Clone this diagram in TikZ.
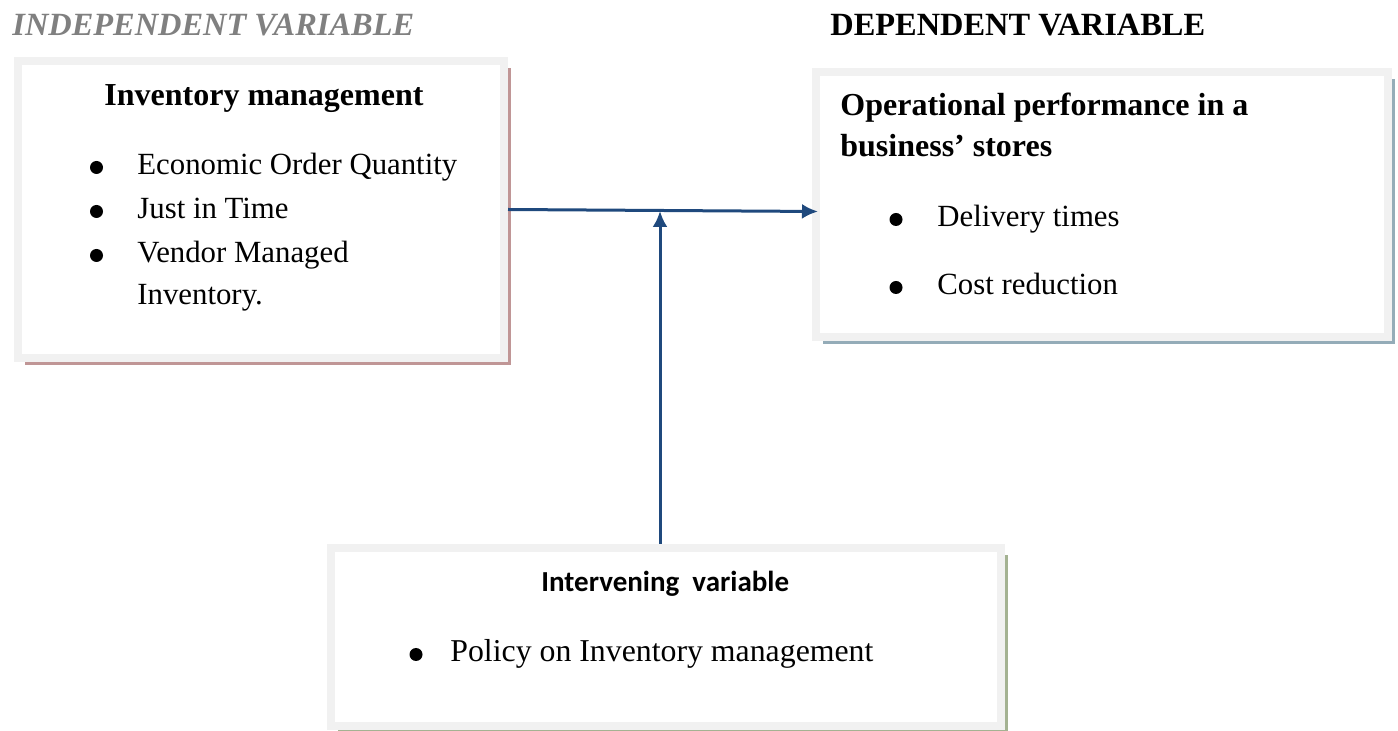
\documentclass[tikz,border=0pt]{standalone}
\usepackage{fontspec}
\setmainfont{Liberation Serif}
\newfontfamily\calibri{Carlito}
\usetikzlibrary{arrows.meta,shadows}

\definecolor{framegrey}{RGB}{241,241,241}
\definecolor{redshade}{RGB}{192,150,150}
\definecolor{blueshade}{RGB}{148,172,184}
\definecolor{greenshade}{RGB}{164,178,146}
\definecolor{linkblue}{RGB}{31,73,125}
\definecolor{titlegrey}{RGB}{128,128,128}

\newcommand{\bodyfont}{\fontsize{15.4}{22}\selectfont}
\newcommand{\headfont}{\fontsize{16}{22}\selectfont\bfseries}

\begin{document}
\begin{tikzpicture}[x=0.5pt, y=-0.5pt, >={Latex[length=8pt,width=7.5pt]},
  panel/.style={draw=framegrey, line width=4pt, fill=white, inner sep=0pt,
    drop shadow={shadow xshift=3.5pt, shadow yshift=-3.5pt, fill=#1, opacity=1}},
  txt/.style={anchor=base west, inner sep=0pt, font=\bodyfont},
  dot/.style={circle, fill=black, inner sep=0pt, minimum size=6.5pt},
  flow/.style={->, draw=linkblue, fill=linkblue, line width=1.5pt}]
\useasboundingbox (0,0) rectangle (1398,731);

% the three panels
\node[panel=redshade, minimum width=243pt, minimum height=148.5pt] (ivbox) at (261,209.5) {};
\node[panel=blueshade, minimum width=286pt, minimum height=132.5pt] (dvbox) at (1102,204.5) {};
\node[panel=greenshade, minimum width=335pt, minimum height=89pt] (mvbox) at (666,637) {};

% column titles
\node[txt, text=titlegrey, font=\fontsize{16.2}{22}\selectfont\bfseries\itshape] (ivtitle) at (12,36) {INDEPENDENT VARIABLE};
\node[txt, font=\fontsize{16.2}{22}\selectfont\bfseries] (dvtitle) at (830,36) {DEPENDENT VARIABLE};

% independent variable
\node[txt, font=\headfont] (ivhead) at (104,106) {Inventory management};
\foreach \y/\t [count=\i] in {175/Economic Order Quantity, 219/Just in Time, 263/Vendor Managed} {
  \node[dot] (ivdot\i) at (96.5,\y-7.5) {};
  \node[txt] (ivitem\i) at (137,\y) {\t};
}
\node[txt] (ivitem4) at (137,305) {Inventory.};

% dependent variable
\node[txt, font=\headfont] (dvhead1) at (840,116) {Operational performance in a};
\node[txt, font=\headfont] (dvhead2) at (840,157) {business’ stores};
\foreach \y/\t [count=\i] in {227/Delivery times, 295/Cost reduction} {
  \node[dot] (dvdot\i) at (896,\y-7.5) {};
  \node[txt] (dvitem\i) at (937,\y) {\t};
}

% intervening variable
\node[txt, font=\fontsize{14.5}{18}\selectfont\calibri\bfseries] (mvhead) at (541,592) {Intervening~~variable};
\node[dot] (mvdot) at (416,654.5) {};
\node[txt, font=\fontsize{15.9}{22}\selectfont] (mvitem) at (450,662) {Policy on Inventory management};

% links
\coordinate (meet) at (660,211);
\draw[flow] (ivbox.east) -- ([shift={(3pt,-3.5pt)}]dvbox.west);
\draw[flow] (mvbox.north -| meet) -- (meet);
\end{tikzpicture}
\end{document}
